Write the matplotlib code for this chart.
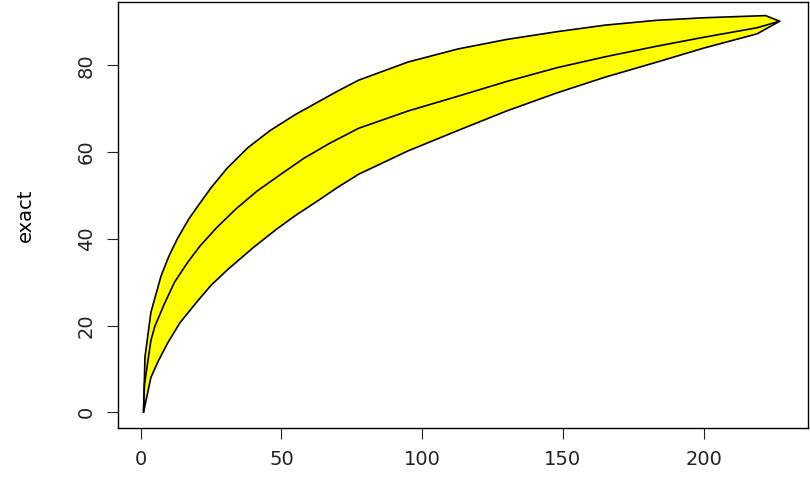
import matplotlib
matplotlib.use("Agg")
import matplotlib.pyplot as plt

upper_x = [1, 1.5, 3.6, 7.2, 10, 13, 17, 21, 25, 30.7, 38, 46, 55, 62.5, 70, 77.4, 95, 112.7, 130, 148, 165, 183, 200, 222, 227]
upper_y = [0, 12.7, 23, 31.4, 36, 40, 44.5, 48.2, 51.8, 56.3, 61, 65, 68.7, 71.4, 74.1, 76.6, 80.8, 83.8, 86, 87.8, 89.3, 90.4, 91, 91.5, 90.2]
middle_x = [1, 1.3, 3.6, 5, 8.4, 12, 16.6, 21, 27, 34, 41.3, 50, 58, 67, 77.4, 95, 112.7, 130, 148, 165, 183, 200, 219, 227]
middle_y = [0, 6.3, 16.5, 19.8, 25, 30, 34.5, 38.3, 42.6, 47, 51, 55, 58.6, 62, 65.5, 69.5, 72.9, 76.3, 79.5, 82, 84.4, 86.5, 88.7, 90.2]
lower_x = [1, 3.6, 6, 9.5, 14, 20, 25, 30.7, 40, 48.4, 55, 62.5, 70, 77.4, 95, 112.7, 130, 148, 165, 183, 200, 219, 227]
lower_y = [0, 8, 11.5, 15.9, 20.7, 25.5, 29.3, 32.8, 38, 42.3, 45.4, 48.6, 51.9, 54.9, 60.3, 65, 69.5, 73.7, 77.3, 80.7, 84, 87.3, 90.2]

fig = plt.figure(figsize=(8.1, 4.87), dpi=100)
ax = fig.add_axes([118/810, 59/487, 690/810, 426/487])
px = upper_x + lower_x[::-1]
py = upper_y + lower_y[::-1]
ax.fill(px, py, facecolor="#FFFF00", edgecolor="black", linewidth=1.2)
ax.plot(middle_x, middle_y, color="black", linewidth=1.2)
ax.set_xlim(-8.08, 237.08)
ax.set_ylim(-3.64, 94.64)
ax.set_xticks([0, 50, 100, 150, 200])
ax.set_yticks([0, 20, 40, 60, 80])
ax.tick_params(direction="out", length=8, labelsize=14, colors="#222222", pad=8)
for lab in ax.get_yticklabels():
    lab.set_rotation(90)
    lab.set_va("center")
ax.set_ylabel("exact", fontsize=14, labelpad=30)
for s in ax.spines.values():
    s.set_linewidth(1)
fig.savefig("out.png", dpi=100)
